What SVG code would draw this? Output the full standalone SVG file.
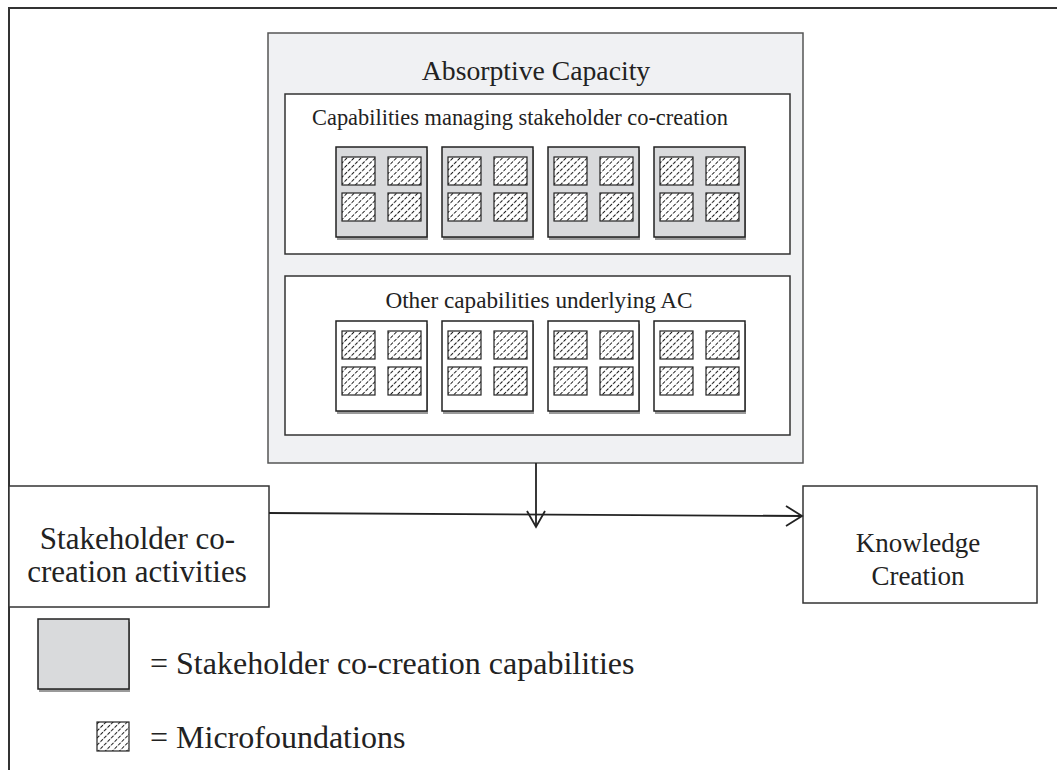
<svg xmlns="http://www.w3.org/2000/svg" width="1057" height="770" viewBox="0 0 1057 770">
<defs>
<style>
text{font-family:"Liberation Serif","Times New Roman",serif;fill:#222}
.cap{stroke:#222;stroke-width:1.5}
.grey{fill:#d9dadc}
.white{fill:#fff}
.shadow{fill:#9a9a9a}
.mf{fill:url(#hatch);stroke:#222;stroke-width:1.2}
.box{fill:#fff;stroke:#333;stroke-width:1.5}
.conn{stroke:#222;stroke-width:1.8;fill:none}
</style>
<pattern id="hatch" patternUnits="userSpaceOnUse" width="5" height="5" patternTransform="rotate(45)">
<rect width="5" height="5" fill="#fff"/>
<line x1="0" y1="0" x2="0" y2="5" stroke="#111" stroke-width="1.9" stroke-dasharray="3.5 1.5"/>
</pattern>
<g id="mf4">
<rect class="mf" x="6" y="10" width="33" height="28"/>
<rect class="mf" x="52" y="10" width="33" height="28"/>
<rect class="mf" x="6" y="46" width="33" height="28"/>
<rect class="mf" x="52" y="46" width="33" height="28"/>
</g>
</defs>
<rect width="1057" height="770" fill="#fff"/>
<rect id="frame" x="9" y="8" width="1100" height="800" fill="none" stroke="#333" stroke-width="2"/>

<g id="ac">
<rect x="268" y="33" width="535" height="430" fill="#f0f1f3" stroke="#555" stroke-width="1.5"/>
<text x="536" y="80" font-size="27.7" text-anchor="middle">Absorptive Capacity</text>
</g>

<g id="managing">
<rect class="box" x="285" y="94" width="505" height="160"/>
<text x="520" y="125" font-size="22.4" text-anchor="middle">Capabilities managing stakeholder co-creation</text>
<g transform="translate(336,147)"><rect class="shadow" x="1" y="3" width="91" height="90"/><rect class="cap grey" width="91" height="90"/><use href="#mf4"/></g>
<g transform="translate(442,147)"><rect class="shadow" x="1" y="3" width="91" height="90"/><rect class="cap grey" width="91" height="90"/><use href="#mf4"/></g>
<g transform="translate(548,147)"><rect class="shadow" x="1" y="3" width="91" height="90"/><rect class="cap grey" width="91" height="90"/><use href="#mf4"/></g>
<g transform="translate(654,147)"><rect class="shadow" x="1" y="3" width="91" height="90"/><rect class="cap grey" width="91" height="90"/><use href="#mf4"/></g>
</g>

<g id="other">
<rect class="box" x="285" y="276" width="505" height="159"/>
<text x="539" y="308" font-size="23.2" text-anchor="middle">Other capabilities underlying AC</text>
<g transform="translate(336,321)"><rect class="shadow" x="1" y="3" width="91" height="90"/><rect class="cap white" width="91" height="90"/><use href="#mf4"/></g>
<g transform="translate(442,321)"><rect class="shadow" x="1" y="3" width="91" height="90"/><rect class="cap white" width="91" height="90"/><use href="#mf4"/></g>
<g transform="translate(548,321)"><rect class="shadow" x="1" y="3" width="91" height="90"/><rect class="cap white" width="91" height="90"/><use href="#mf4"/></g>
<g transform="translate(654,321)"><rect class="shadow" x="1" y="3" width="91" height="90"/><rect class="cap white" width="91" height="90"/><use href="#mf4"/></g>
</g>

<g id="stakeholder">
<rect class="box" x="9" y="486" width="260" height="121"/>
<text x="137.5" y="549" font-size="31" text-anchor="middle">Stakeholder co-</text>
<text x="137" y="582" font-size="31" text-anchor="middle">creation activities</text>
</g>

<g id="knowledge">
<rect class="box" x="803" y="486" width="234" height="117"/>
<text x="918" y="552" font-size="27" text-anchor="middle">Knowledge</text>
<text x="918" y="585" font-size="27" text-anchor="middle">Creation</text>
</g>

<g id="connectors">
<line class="conn" x1="536" y1="463" x2="536" y2="527"/>
<polyline class="conn" points="527,511 536,527 545,511"/>
<line class="conn" x1="269" y1="513" x2="802" y2="516"/>
<polyline class="conn" points="786,506 802,516 786,526"/>
</g>

<g id="legend">
<rect class="shadow" x="39" y="622" width="91" height="70"/>
<rect class="cap grey" x="38" y="619" width="91" height="70"/>
<text x="150" y="674" font-size="32">= Stakeholder co-creation capabilities</text>
<rect class="mf" x="97" y="722" width="32" height="29"/>
<text x="150" y="748" font-size="32">= Microfoundations</text>
</g>
</svg>
